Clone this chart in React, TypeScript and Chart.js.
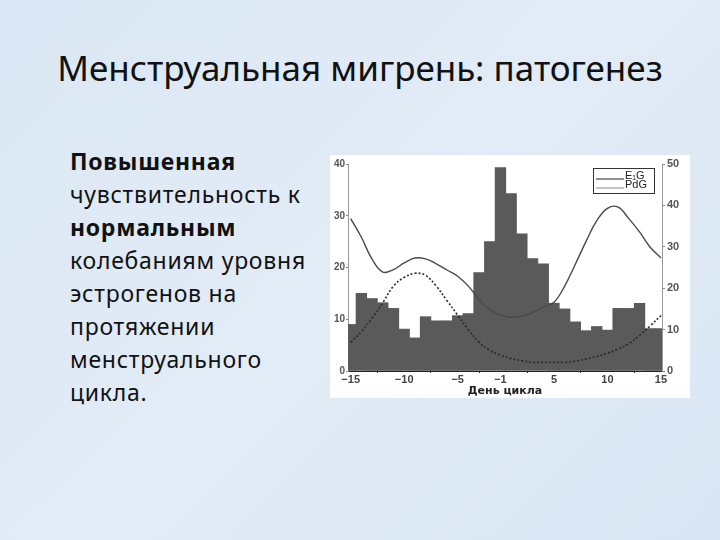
import React, { useEffect, useRef } from "react";
import { Chart, registerables } from "chart.js";

Chart.register(...registerables);

// Days of the cycle (no day 0)
const days = [-15, -14, -13, -12, -11, -10, -9, -8, -7, -6, -5, -4, -3, -2, -1, 1, 2, 3, 4, 5, 6, 7, 8, 9, 10, 11, 12, 13, 14, 15];
// Migraine frequency (%), left axis
const migraine = [9, 15, 14, 13.2, 12.1, 8.1, 6.4, 10.5, 9.7, 9.7, 10.7, 11.1, 19, 25, 39.3, 34.3, 26.5, 21.7, 20.7, 13.1, 12.0, 9.5, 7.8, 8.6, 7.9, 12.1, 12.1, 13.1, 8.2, 8.2];
// E1G, right axis
const e1g = [36.8, 32.3, 27.0, 23.9, 24.5, 26.1, 27.3, 27.1, 25.9, 24.4, 22.9, 20.5, 17.3, 14.8, 13.6, 13.0, 13.3, 14.1, 15.4, 16.6, 20.5, 25.8, 31.3, 36.3, 39.3, 39.6, 36.8, 33.6, 29.9, 27.3];
// PdG, right axis
const pdg = [6.9, 9.5, 12.8, 16.5, 20.5, 22.6, 23.6, 23.1, 20.5, 17.0, 13.5, 10.0, 7.0, 5.0, 3.8, 3.0, 2.5, 2.1, 2.1, 2.1, 2.1, 2.4, 2.9, 3.5, 4.3, 5.3, 6.6, 8.6, 10.9, 13.4];
const xTickDays = [-15, -10, -5, -1, 5, 10, 15];
const leftTicks = [0, 10, 20, 30, 40];
const rightTicks = [0, 10, 20, 30, 40, 50];
const seriesLabels = ["E\u2081G", "PdG"];
const xTitle = "День цикла";

const title = "Менструальная мигрень: патогенез";
const bodyLines: { text: string; bold: boolean }[] = [
  { text: "Повышенная", bold: true },
  { text: "чувствительность к", bold: false },
  { text: "нормальным", bold: true },
  { text: "колебаниям уровня", bold: false },
  { text: "эстрогенов на", bold: false },
  { text: "протяжении", bold: false },
  { text: "менструального", bold: false },
  { text: "цикла.", bold: false },
];

const fmt = (d: number) => (d < 0 ? "\u2212" + Math.abs(d) : String(d));

const legendPlugin = {
  id: "boxLegend",
  afterDatasetsDraw(chart: any) {
    const ctx = chart.ctx;
    const area = chart.chartArea;
    const items = chart.data.datasets.filter((d: any) => d.type === "line");
    const boxW = 61;
    const boxH = 25;
    const bx = area.right - 69;
    const by = area.top + 4;
    ctx.save();
    ctx.fillStyle = "#ffffff";
    ctx.fillRect(bx, by, boxW, boxH);
    ctx.strokeStyle = "#333";
    ctx.lineWidth = 1;
    ctx.strokeRect(bx + 0.5, by + 0.5, boxW, boxH);
    ctx.font = "11px 'Liberation Sans', Arial, sans-serif";
    ctx.textBaseline = "middle";
    ctx.textAlign = "left";
    items.forEach((ds: any, i: number) => {
      const y = by + 8 + i * 9;
      ctx.beginPath();
      ctx.strokeStyle = ds.legendColor || ds.borderColor;
      ctx.lineWidth = 1;
      ctx.setLineDash([]);
      ctx.moveTo(bx + 3, y + 3);
      ctx.lineTo(bx + 31, y + 3);
      ctx.stroke();
      ctx.fillStyle = "#222";
      ctx.fillText(ds.label, bx + 32, y);
    });
    ctx.restore();
  },
};

function HormoneChart() {
  const ref = useRef<HTMLCanvasElement | null>(null);
  useEffect(() => {
    if (!ref.current) return;
    const tickFont = { family: "'Liberation Sans', Arial, sans-serif", size: 10, weight: "bold" };
    const chart = new Chart(ref.current, {
      type: "bar",
      data: {
        datasets: [
          {
            type: "line",
            label: seriesLabels[0],
            data: days.map((d, i) => ({ x: i, y: e1g[i] })),
            yAxisID: "y1",
            borderColor: "#4a4a4a",
            legendColor: "#222",
            borderWidth: 1.4,
            pointRadius: 0,
            tension: 0.4,
            order: 0,
          } as any,
          {
            type: "line",
            label: seriesLabels[1],
            data: days.map((d, i) => ({ x: i, y: pdg[i] })),
            yAxisID: "y1",
            borderColor: "#2a2a2a",
            legendColor: "#8a8a8a",
            borderDash: [2, 2],
            borderWidth: 1.6,
            pointRadius: 0,
            tension: 0.4,
            order: 0,
          } as any,
          {
            type: "bar",
            label: "Мигрень",
            data: days.map((d, i) => ({ x: i, y: migraine[i] })),
            yAxisID: "y",
            backgroundColor: "#5a5a5a",
            borderWidth: 0,
            barPercentage: 1,
            categoryPercentage: 1,
            clip: 0,
            order: 1,
          } as any,
        ],
      },
      options: {
        animation: false,
        responsive: false,
        events: [],
        layout: { padding: { top: 9, left: 0, right: 0, bottom: 0 } },
        plugins: { legend: { display: false }, tooltip: { enabled: false } },
        scales: {
          x: {
            type: "linear",
            offset: false,
            min: -0.25,
            max: 29.1,
            grid: { drawOnChartArea: false, drawTicks: true, tickLength: 2, color: "#333" },
            border: { display: true, color: "#222", width: 1 },
            afterBuildTicks: (scale: any) => {
              scale.ticks = xTickDays.map((d) => ({ value: days.indexOf(d) }));
            },
            afterFit: (scale: any) => {
              scale.height = 27;
            },
            ticks: {
              autoSkip: false,
              maxRotation: 0,
              padding: 0,
              color: "#444",
              font: { ...tickFont, size: 11 },
              callback: (v: any) => fmt(days[Math.round(Number(v))]),
            },
            title: {
              display: true,
              text: xTitle,
              color: "#222",
              font: { family: "'DejaVu Sans', Arial, sans-serif", size: 11, weight: "bold" },
              padding: { top: 1, bottom: 0 },
            },
          },
          y: {
            position: "left",
            min: 0,
            max: 40,
            afterBuildTicks: (scale: any) => {
              scale.ticks = leftTicks.map((v) => ({ value: v }));
            },
            afterFit: (scale: any) => {
              scale.width = 18;
            },
            grid: { drawOnChartArea: false, drawTicks: true, tickLength: 2, color: "#888" },
            border: { display: true, color: "#999", width: 1 },
            ticks: { padding: 1, color: "#555", font: { ...tickFont, size: 10 } },
          },
          y1: {
            position: "right",
            min: 0,
            max: 50,
            afterBuildTicks: (scale: any) => {
              scale.ticks = rightTicks.map((v) => ({ value: v }));
            },
            afterFit: (scale: any) => {
              scale.width = 28;
            },
            grid: { drawOnChartArea: false, drawTicks: true, tickLength: 3, color: "#888" },
            border: { display: true, color: "#999", width: 1 },
            ticks: { padding: 2, color: "#555", font: { ...tickFont, size: 11 } },
          },
        },
      } as any,
      plugins: [legendPlugin],
    });
    return () => chart.destroy();
  }, []);
  return <canvas ref={ref} width={360} height={243} style={{ display: "block" }} />;
}

export default function App() {
  return (
    <div
      style={{
        position: "fixed",
        left: 0,
        top: 0,
        width: 720,
        height: 540,
        background: "linear-gradient(135deg, #dbe7f4 0%, #e2ecf7 50%, #d9e6f3 100%)",
        fontFamily: "'Noto Sans', 'Open Sans', sans-serif",
        color: "#111",
        overflow: "hidden",
      }}
    >
      <div
        style={{
          position: "absolute",
          left: 0,
          width: 720,
          top: 44,
          textAlign: "center",
          fontSize: 35,
          lineHeight: "48px",
          whiteSpace: "nowrap",
        }}
      >
        {title}
      </div>
      <div style={{ position: "absolute", left: 70, top: 145, fontSize: 23, lineHeight: "33px", letterSpacing: 0.75 }}>
        {bodyLines.map((l, i) => (
          <div key={i} style={{ fontWeight: l.bold ? 700 : 400, whiteSpace: "nowrap" }}>
            {l.text}
          </div>
        ))}
      </div>
      <div style={{ position: "absolute", left: 330, top: 155, width: 360, height: 243, background: "#fff" }}>
        <HormoneChart />
      </div>
    </div>
  );
}
